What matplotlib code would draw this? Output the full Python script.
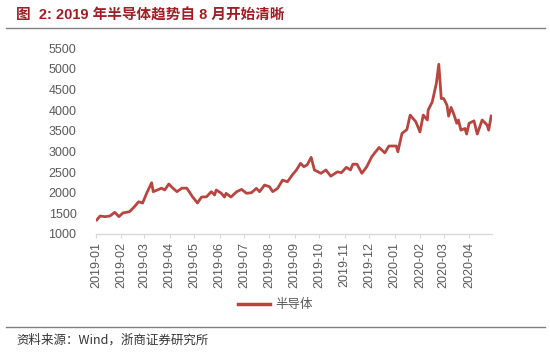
import numpy as np
import pandas as pd
import matplotlib
matplotlib.use('Agg')
import matplotlib.pyplot as plt
import matplotlib.dates as mdates
from matplotlib.lines import Line2D

plt.rcParams['font.family'] = ['Liberation Sans', 'Noto Sans CJK SC', 'DejaVu Sans']

# ================== DADOS ==================
dates = [
    '2019-01-02', '2019-01-06', '2019-01-12', '2019-01-18', '2019-01-24', '2019-01-29',
    '2019-02-03', '2019-02-11', '2019-02-17', '2019-02-22', '2019-02-27',
    '2019-03-04', '2019-03-10', '2019-03-12', '2019-03-17', '2019-03-22', '2019-03-26', '2019-03-31',
    '2019-04-05', '2019-04-10', '2019-04-16', '2019-04-22', '2019-04-29',
    '2019-05-05', '2019-05-10', '2019-05-16', '2019-05-22', '2019-05-26', '2019-05-28',
    '2019-06-03', '2019-06-07', '2019-06-09', '2019-06-15', '2019-06-22', '2019-06-28',
    '2019-07-04', '2019-07-10', '2019-07-16', '2019-07-20', '2019-07-26',
    '2019-08-01', '2019-08-05', '2019-08-11', '2019-08-17', '2019-08-23', '2019-08-29',
    '2019-09-03', '2019-09-08', '2019-09-12', '2019-09-16', '2019-09-21', '2019-09-25',
    '2019-10-03', '2019-10-09', '2019-10-15', '2019-10-23', '2019-10-28',
    '2019-11-03', '2019-11-08', '2019-11-11', '2019-11-16', '2019-11-22', '2019-11-28',
    '2019-12-04', '2019-12-13', '2019-12-20', '2019-12-25',
    '2020-01-03', '2020-01-05', '2020-01-10', '2020-01-16', '2020-01-20', '2020-01-27',
    '2020-02-01', '2020-02-05', '2020-02-10', '2020-02-11', '2020-02-16', '2020-02-21',
    '2020-02-24', '2020-02-27',
    '2020-03-01', '2020-03-05', '2020-03-07', '2020-03-10', '2020-03-13', '2020-03-17',
    '2020-03-19', '2020-03-22', '2020-03-27', '2020-03-29',
    '2020-04-01', '2020-04-07', '2020-04-11', '2020-04-17', '2020-04-23', '2020-04-25',
    '2020-04-28',
]
values = [
    1340, 1435, 1420, 1435, 1525, 1420,
    1510, 1540, 1660, 1780, 1750,
    1990, 2240, 2025, 2065, 2110, 2065, 2210,
    2110, 2025, 2110, 2110, 1900,
    1750, 1895, 1900, 2025, 1945, 2065,
    1990, 1895, 1985, 1895, 2025, 2080,
    1985, 2000, 2105, 2025, 2185,
    2145, 2025, 2105, 2305, 2265, 2430,
    2550, 2710, 2630, 2670, 2855, 2550,
    2470, 2550, 2400, 2505, 2485,
    2615, 2550, 2690, 2690, 2470, 2630,
    2870, 3095, 2965, 3130,
    3130, 2990, 3435, 3530, 3880, 3715,
    3470, 3880, 3760, 4000, 4200, 4645,
    5110, 4280,
    4280, 4120, 3855, 4065, 3920, 3680,
    3760, 3515, 3555, 3420,
    3680, 3740, 3420, 3760, 3640, 3515,
    3855,
]
series_name = '半导体'
title = '图  2: 2019 年半导体趋势自 8 月开始清晰'
source = '资料来源：Wind，浙商证券研究所'

x = pd.to_datetime(dates)

# ================== FIGURA ==================
fig = plt.figure(figsize=(5.5, 3.54), dpi=100)
ax = fig.add_axes([0.1745, 0.339, 0.72, 0.525])

line_color = '#B8453F'
ax.plot(x, values, color=line_color, linewidth=2.0, solid_joinstyle='round')

ax.set_ylim(1000, 5500)
ax.set_yticks(np.arange(1000, 5501, 500))
ax.set_xlim(pd.Timestamp('2019-01-01'), pd.Timestamp('2020-04-29'))
ax.xaxis.set_major_locator(mdates.MonthLocator())
ax.xaxis.set_major_formatter(mdates.DateFormatter('%Y-%m'))

for s in ['top', 'right', 'left']:
    ax.spines[s].set_visible(False)
ax.spines['bottom'].set_color('#D9D9D9')
ax.spines['bottom'].set_linewidth(1.0)
ax.tick_params(axis='y', length=0, labelsize=9, labelcolor='#595959', pad=14)
ax.tick_params(axis='x', length=3, color='#D9D9D9', labelsize=9,
               labelcolor='#595959', labelrotation=90, pad=3)

# legenda
h = Line2D([], [], color=line_color, linewidth=2.5)
fig.legend([h], [series_name], loc='center', bbox_to_anchor=(0.5, 0.14),
           frameon=False, handlelength=2.6, handletextpad=0.4,
           prop={'family': ['Noto Sans CJK SC'], 'size': 9}, labelcolor='#595959')

# título, linhas e fonte
fig.text(0.03, 0.955, title, color='#A11F24', fontsize=10.5, fontweight='bold',
         family=['Liberation Sans', 'Noto Sans CJK SC'], va='center')
fig.add_artist(Line2D([0.01, 0.99], [0.921, 0.921], color='#808080', linewidth=1.0))
fig.add_artist(Line2D([0.01, 0.99], [0.077, 0.077], color='#808080', linewidth=1.0))
fig.text(0.03, 0.038, source, color='#333333', fontsize=9,
         family=['Noto Sans CJK SC', 'Liberation Sans'], va='center')

fig.savefig('out.png', dpi=100)
plt.close(fig)
